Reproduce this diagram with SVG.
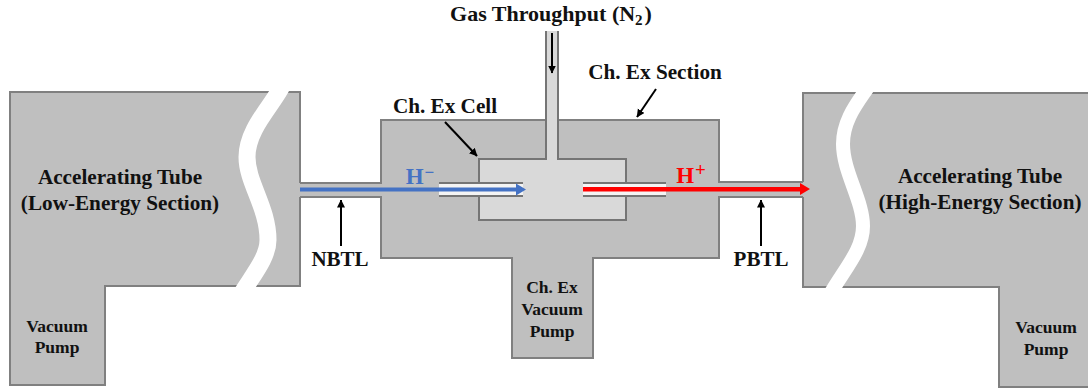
<svg xmlns="http://www.w3.org/2000/svg" width="1088" height="392" viewBox="0 0 1088 392">
<style>
text{font-family:"Liberation Serif","Times New Roman",serif;font-weight:bold;fill:#111;text-anchor:middle}
.b{fill:#bfbfbf;stroke:#808080;stroke-width:2}
.f{fill:#bfbfbf;stroke:none}
.g{fill:#d9d9d9;stroke:none}
.o{fill:none;stroke:#808080;stroke-width:2}
.w{fill:none;stroke:#fff}
.t{fill:none;stroke:#757575;stroke-width:2}
.k{fill:none;stroke:#000;stroke-width:2}
.l{font-size:21.200px}.s{font-size:17.500px}.m{font-size:21px}
</style>
<defs>
<marker id="ah" markerUnits="userSpaceOnUse" markerWidth="8" markerHeight="10" refX="7.500" refY="4" orient="auto"><path d="M0 0L8 4L0 8Z" fill="#000"/></marker>
</defs>
<rect width="1088" height="392" fill="#fff"/>
<g id="low-energy-tube">
<path class="b" d="M300 183V92H10V385H105V286H300V197"/>
<path class="w" stroke-width="17" d="M283 84C274 104 247 128 247 157C247 183 268 207 268 240C268 258 252 276 240 296"/>
<text class="l" x="120" y="184">Accelerating Tube</text>
<text class="l" x="120" y="210">(Low-Energy Section)</text>
<text class="s" x="57" y="332">Vacuum</text>
<text class="s" x="57" y="353">Pump</text>
</g>
<g id="high-energy-tube">
<path class="b" d="M803 183V93H1090V387H999V287H803V197"/>
<path class="w" stroke-width="14" d="M870 84C860 100 843 118 843 144C843 172 863 200 863 226C863 250 845 268 829 296"/>
<text class="l" x="980" y="183">Accelerating Tube</text>
<text class="l" x="980" y="209">(High-Energy Section)</text>
<text class="s" x="1046" y="333">Vacuum</text>
<text class="s" x="1046" y="355">Pump</text>
</g>
<g id="ch-ex-section">
<path class="f" d="M299 183H381V120H719V182H804V197H719V258H593V358H512V258H381V197H299Z"/>
<path class="o" d="M300 183H381V120H546M558 120H719V182H803M803 197H719V258H593V358H512V258H381V197H300"/>
<text class="s" x="552" y="293">Ch. Ex</text>
<text class="s" x="552" y="315">Vacuum</text>
<text class="s" x="552" y="337">Pump</text>
</g>
<g id="ch-ex-cell">
<path class="g" d="M546 31H558V159H626V220H479V159H546Z"/>
<path class="t" d="M479 183V159H546V31M558 31V159H626V183M626 196V220H479V196"/>
<rect x="439" y="184" width="84" height="12" fill="#f4f4f4"/>
<rect x="583" y="184" width="83" height="12" fill="#f4f4f4"/>
<path class="t" d="M439 183H523M439 196H523M583 183H666M583 196H666"/>
</g>
<g id="connectors">
<path d="M300 187.500H516V183.500L526 189.500L516 195.500V191.500H300Z" fill="#4472c4"/>
<path d="M583 187H800V183L810 189L800 195V191.500H583Z" fill="#ff0000"/>
<path class="k" marker-end="url(#ah)" d="M552 33V73"/>
<path class="k" marker-end="url(#ah)" d="M445 122L477 156"/>
<path class="k" marker-end="url(#ah)" d="M656 89L637 117"/>
<path class="k" marker-end="url(#ah)" d="M341 246V200"/>
<path class="k" marker-end="url(#ah)" d="M761 246V200"/>
</g>
<g id="labels">
<text x="551" y="21" class="l" font-size="22" style="font-size:22px">Gas Throughput (N<tspan font-size="15" style="font-size:15px" dy="4">2</tspan><tspan dx="2" dy="-4">)</tspan></text>
<text x="655" y="79" class="l">Ch. Ex Section</text>
<text x="445" y="113" class="l">Ch. Ex Cell</text>
<text x="340" y="266" class="m">NBTL</text>
<text x="761" y="266" class="m">PBTL</text>
<text x="420" y="184" font-size="23" style="fill:#4472c4">H<tspan font-size="17" dx="1" dy="-6">−</tspan></text>
<text x="691" y="183" font-size="23" style="fill:#ff0000">H<tspan font-size="19" dx="1" dy="-7">+</tspan></text>
</g>
</svg>
